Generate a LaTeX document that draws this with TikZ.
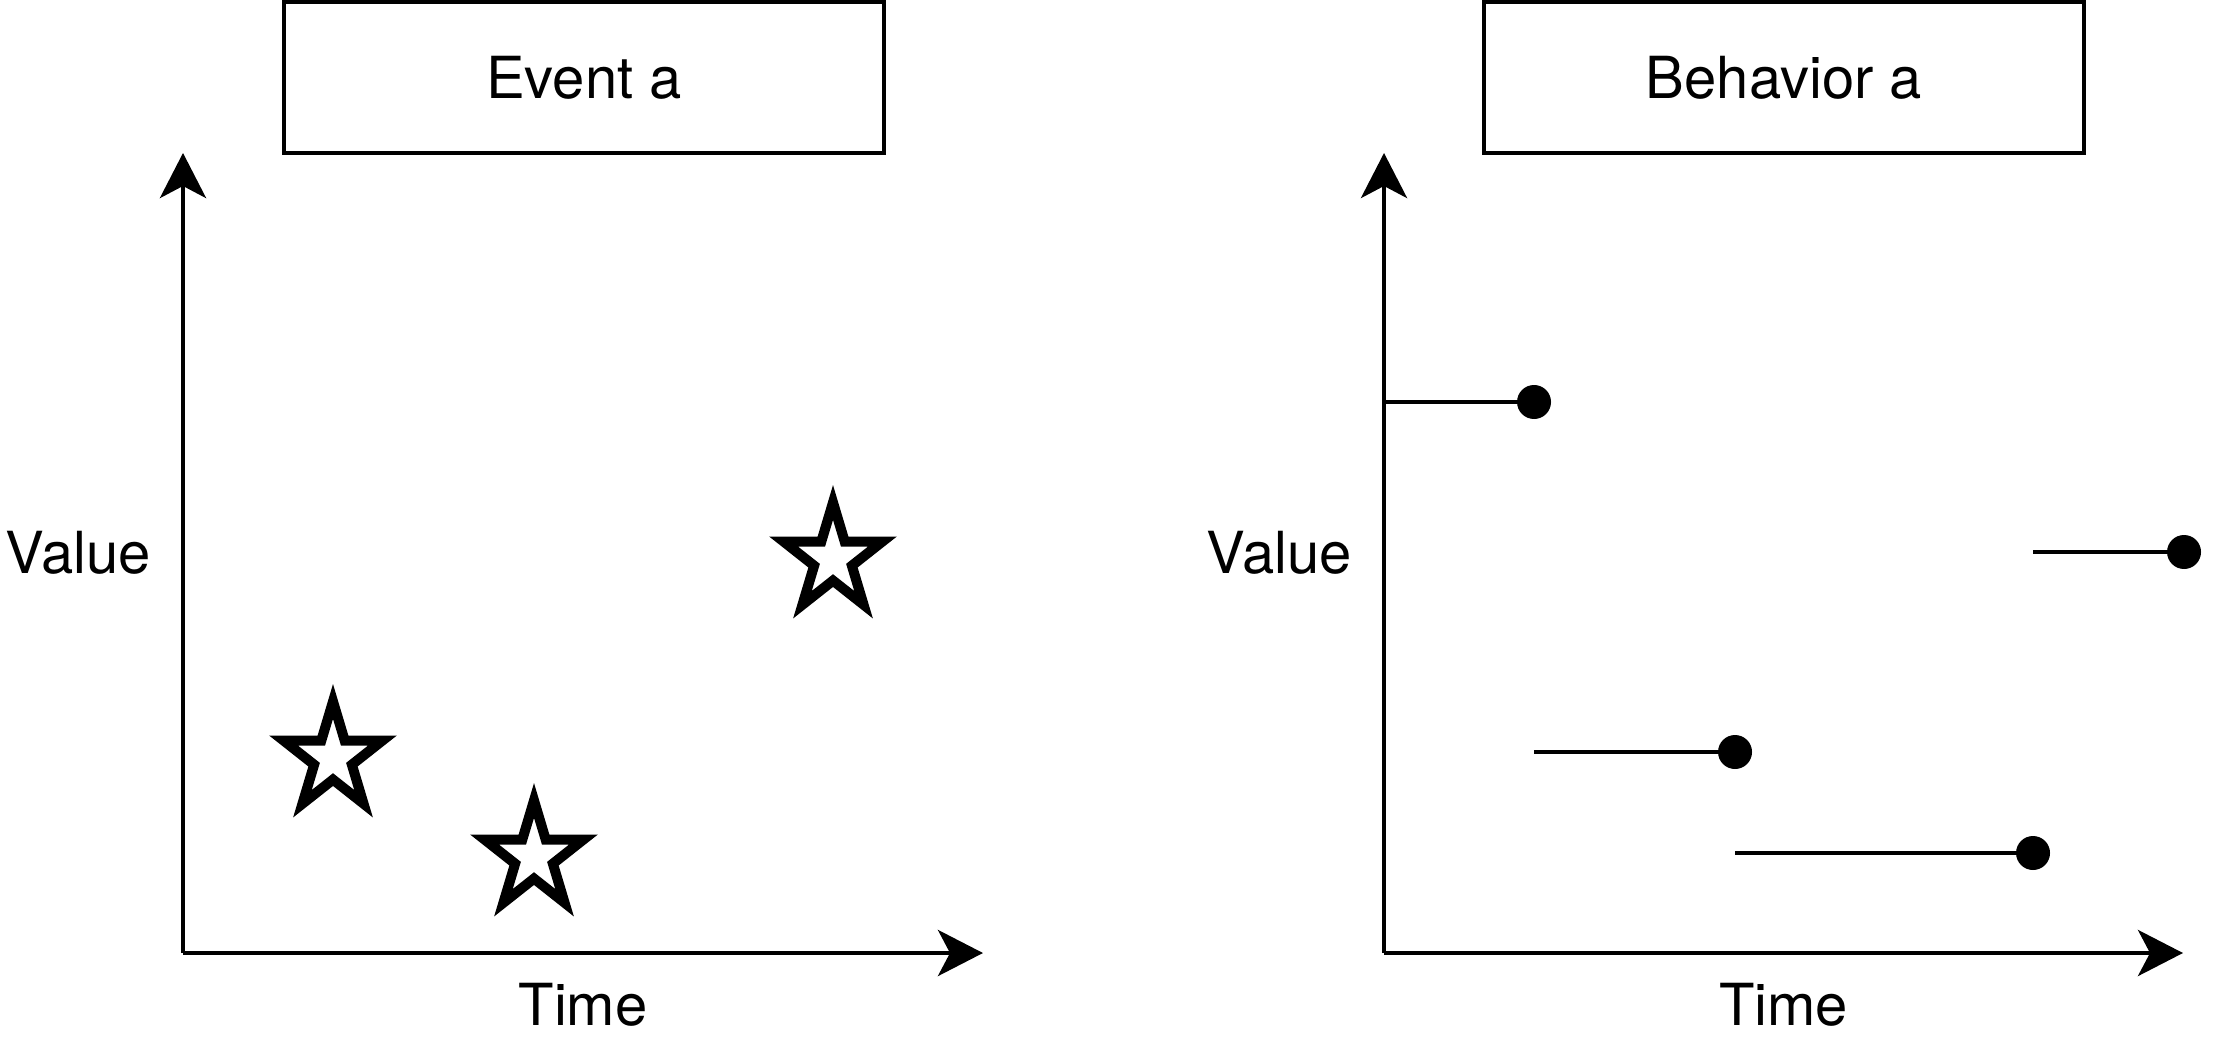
\documentclass[tikz,border=0pt]{standalone}
\usepackage{fontspec}
\setmainfont{TeX Gyre Heros}
\usetikzlibrary{arrows.meta,shapes.geometric,positioning}

\begin{document}
\begin{tikzpicture}[x=0.5pt,y=-0.5pt,
        axis/.style={line width=2.25pt,-{Stealth[length=22.5pt,width=23pt,inset=6pt]}},
        titlebox/.style={draw,line width=2.25pt,minimum width=300pt,minimum height=75.5pt,inner sep=0pt,font=\fontsize{29}{34}\selectfont},
        axislabel/.style={inner sep=0pt,font=\fontsize{29}{34}\selectfont},
        eventstar/.style={draw,line width=5pt,fill=white,star,star points=5,star point ratio=2.618,minimum size=56.5pt,inner sep=0pt,xscale=0.92,transform shape},
        dot/.style={circle,fill=black,minimum size=17pt,inner sep=0pt},
        hold/.style={line width=2.25pt}]
        \useasboundingbox (0,0) rectangle (2214,1037);

        % event side
        \node[titlebox] (eventbox) at (584,77.5) {Event a};
        \coordinate (o1) at (183,953);
        \coordinate (y1) at (183,153);
        \coordinate (x1) at (983,953);
        \draw[axis] (o1) -- node[axislabel,left=15pt] (value1) {Value} (y1);
        \draw[axis] (o1) -- node[axislabel,below=14pt] (time1) {Time} (x1);

        \node[eventstar] (s1) at (333,758) {};
        \node[eventstar] (s2) at (534,857) {};
        \node[eventstar] (s3) at (833,559) {};

        % behavior side
        \node[titlebox] (behaviorbox) at (1784,77.5) {Behavior a};
        \coordinate (o2) at (1384,953);
        \coordinate (y2) at (1384,153);
        \coordinate (x2) at (2183,953);
        \draw[axis] (o2) -- node[axislabel,left=15pt] (value2) {Value} (y2);
        \draw[axis] (o2) -- node[axislabel,below=14pt] (time2) {Time} (x2);

        \node[dot] (d1) at (1534,402) {};
        \node[dot] (d2) at (1735,752) {};
        \node[dot] (d3) at (2033,853) {};
        \node[dot] (d4) at (2184,552) {};
        \coordinate (h1) at (1384,402);
        \coordinate (h2) at (1534,752);
        \coordinate (h3) at (1735,853);
        \coordinate (h4) at (2033,552);

        \draw[hold] (h1) -- (d1);
        \draw[hold] (h2) -- (d2);
        \draw[hold] (h3) -- (d3);
        \draw[hold] (h4) -- (d4);
    \end{tikzpicture}
\end{document}
